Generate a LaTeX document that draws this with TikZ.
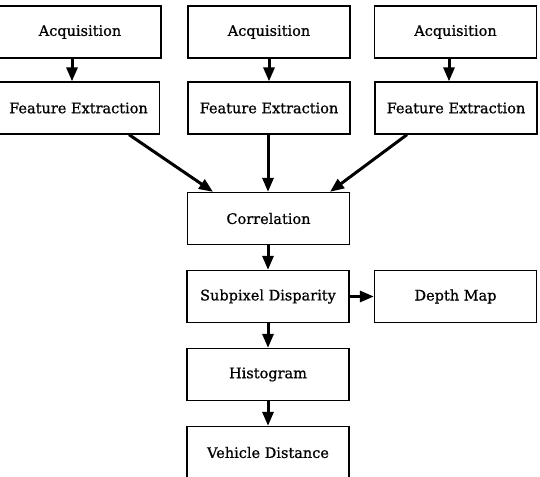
\documentclass[tikz,border=0pt]{standalone}
\usepackage{fontspec}
\setmainfont{DejaVu Serif}[FakeBold=0.8]
\usetikzlibrary{arrows.meta}
\begin{document}
\begin{tikzpicture}[x=1pt,y=-1pt,
  blk/.style={draw, line width=1.3pt, minimum width=162pt, minimum height=52pt,
    inner sep=0pt, font=\fontsize{14.5}{16}\selectfont},
  flow/.style={line width=3pt, -{Triangle[length=14pt,width=11pt]}}]
\useasboundingbox (0,0) rectangle (540,476);
\node[blk] (a1) at (80,32) {Acquisition};
\node[blk] (a2) at (269,32) {Acquisition};
\node[blk] (a3) at (455.5,32) {Acquisition};
\node[blk] (f1) at (78.5,108) {Feature Extraction};
\node[blk] (f2) at (269,108) {Feature Extraction};
\node[blk] (f3) at (456,108) {Feature Extraction};
\node[blk] (c) at (268.5,218.5) {Correlation};
\node[blk] (s) at (268,296.5) {Subpixel Disparity};
\node[blk] (d) at (455.5,296.5) {Depth Map};
\node[blk] (h) at (268,374.5) {Histogram};
\node[blk] (v) at (268,452.5) {Vehicle Distance};
\draw[flow] (a1.south -| 72,0) -- (f1.north -| 72,0);
\draw[flow] (a2.south) -- (f2.north);
\draw[flow] (a3.south -| 449,0) -- (f3.north -| 449,0);
\draw[flow] (f1.south -| 129,0) -- (c.north -| 213,0);
\draw[flow] (f2.south -| 268,0) -- (c.north -| 268,0);
\draw[flow] (f3.south -| 407,0) -- (c.north -| 330,0);
\draw[flow] (c.south -| 268,0) -- (s.north -| 268,0);
\draw[flow] (s.east) -- (d.west);
\draw[flow] (s.south) -- (h.north);
\draw[flow] (h.south) -- (v.north);
\end{tikzpicture}
\end{document}
